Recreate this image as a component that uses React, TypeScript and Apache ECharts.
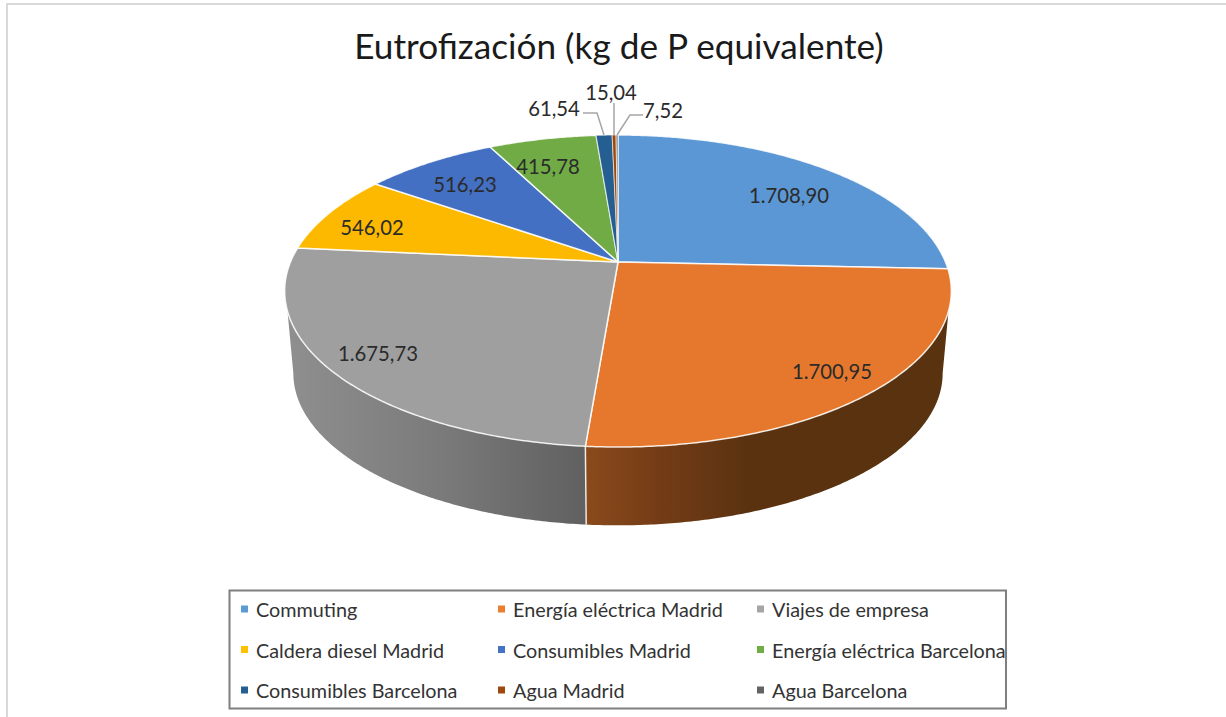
import React, { useEffect, useRef } from "react";
import * as echarts from "echarts";

const categories = [
  "Commuting",
  "Energía eléctrica Madrid",
  "Viajes de empresa",
  "Caldera diesel Madrid",
  "Consumibles Madrid",
  "Energía eléctrica Barcelona",
  "Consumibles Barcelona",
  "Agua Madrid",
  "Agua Barcelona",
];
const values = [1708.9, 1700.95, 1675.73, 546.02, 516.23, 415.78, 61.54, 15.04, 7.52];
const valueLabels = ["1.708,90", "1.700,95", "1.675,73", "546,02", "516,23", "415,78", "61,54", "15,04", "7,52"];
const topColors = ["#5b97d5", "#e6782d", "#9f9f9f", "#fdb900", "#4370c3", "#70ab46", "#255e91", "#9e480e", "#7f7f7f"];
const legendColors = ["#5b9bd5", "#ed7d31", "#a5a5a5", "#ffc000", "#4472c4", "#70ad47", "#255e91", "#9e480e", "#636363"];
const labelPositions = [
  [789, 195],
  [832, 371],
  [378, 353],
  [372, 227],
  [465, 184],
  [548, 166],
  [554, 108],
  [611, 92],
  [663, 110],
];
const legendColumns = [
  { left: 236, names: [categories[0], categories[3], categories[6]] },
  { left: 493, names: [categories[1], categories[4], categories[7]] },
  { left: 752, names: [categories[2], categories[5], categories[8]] },
];

const total = values.reduce((a, b) => a + b, 0);
const DEG = Math.PI / 180;
const PERSPECTIVE = 0.186;
const FONT = "Lato, Carlito, 'Open Sans', sans-serif";

// Perspective projection of a disc: theta is clockwise from 12 o'clock.
function project(theta: number, r: number, cx: number, cy: number, a: number, b: number) {
  const X = r * Math.sin(theta);
  const Y = -r * Math.cos(theta);
  const w = 1 - PERSPECTIVE * Y;
  return [cx + (a * X) / w, cy + (b * Y) / w];
}
const topPt = (t: number, r = 1) => project(t, r, 618, 262, 327.5, 150.6);
const botPt = (t: number) => project(t, 1, 618, 345, 319, 146.8);

function arc(fn: (t: number) => number[], from: number, to: number) {
  const n = Math.max(2, Math.ceil(Math.abs(to - from) / (0.5 * DEG)));
  const pts: number[][] = [];
  for (let i = 0; i <= n; i++) pts.push(fn(from + ((to - from) * i) / n));
  return pts;
}

const WALL_TOP_START = 108 * DEG;
const WALL_TOP_END = 252 * DEG;
const WALL_BOT_START = 100.7 * DEG;
const WALL_BOT_END = 259.3 * DEG;

const wallFill: Record<number, any> = {
  1: {
    type: "linear",
    global: true,
    x: 586,
    y: 0,
    x2: 950,
    y2: 0,
    colorStops: [
      { offset: 0, color: "#8a4a1b" },
      { offset: 0.2, color: "#743c16" },
      { offset: 0.45, color: "#5a3210" },
      { offset: 1, color: "#59320f" },
    ],
  },
  2: {
    type: "linear",
    global: true,
    x: 287,
    y: 0,
    x2: 586,
    y2: 0,
    colorStops: [
      { offset: 0, color: "#8f8f8f" },
      { offset: 0.5, color: "#7b7b7b" },
      { offset: 1, color: "#606060" },
    ],
  },
};

function sliceRender(index: number) {
  const before = values.slice(0, index).reduce((a, b) => a + b, 0);
  return (_params: any, api: any) => {
    const v = api.value(0) as number;
    const t0 = (before / total) * 2 * Math.PI;
    const t1 = ((before + v) / total) * 2 * Math.PI;
    const children: any[] = [];
    const topFrom = Math.max(t0, WALL_TOP_START);
    const topTo = Math.min(t1, WALL_TOP_END);
    if (topTo > topFrom) {
      const botFrom = t0 <= WALL_TOP_START ? WALL_BOT_START : Math.max(t0, WALL_BOT_START);
      const botTo = t1 >= WALL_TOP_END ? WALL_BOT_END : Math.min(t1, WALL_BOT_END);
      children.push({
        type: "polygon",
        shape: { points: [...arc(topPt, topFrom, topTo), ...arc(botPt, botTo, botFrom)] },
        style: { fill: wallFill[index] },
        z2: 1,
      });
      if (t0 > WALL_TOP_START) {
        const a = topPt(t0);
        const b = botPt(t0);
        children.push({
          type: "line",
          shape: { x1: a[0], y1: a[1], x2: b[0], y2: b[1] },
          style: { stroke: "rgba(255,255,255,0.85)", lineWidth: 1.5 },
          z2: 2,
        });
      }
    }
    const c = topPt(0, 0);
    children.push({
      type: "polygon",
      shape: { points: [c, ...arc(topPt, t0, t1)] },
      style: {
        fill: topColors[index],
        stroke: "rgba(255,255,255,0.85)",
        lineWidth: index >= 6 ? 0.7 : 1.5,
        lineJoin: "round",
      },
      z2: 3,
    });
    const p = labelPositions[index];
    children.push({
      type: "text",
      x: p[0],
      y: p[1],
      style: {
        text: valueLabels[index],
        fill: "#2b2b2b",
        font: `20.3px ${FONT}`,
        align: "center",
        verticalAlign: "middle",
      },
      z2: 5,
    });
    return { type: "group", children };
  };
}

const leaderLines = [
  [[583, 113], [597, 113], [604, 135]],
  [[614, 103], [614, 135]],
  [[643, 115], [630, 115], [617, 135]],
];

export default function App() {
  const ref = useRef<HTMLDivElement>(null);
  useEffect(() => {
    const chart = echarts.init(ref.current!, undefined, { renderer: "svg" });
    chart.setOption({
      animation: false,
      backgroundColor: "#ffffff",
      color: legendColors,
      title: {
        text: "Eutrofización (kg de P equivalente)",
        left: 619,
        top: 22,
        textAlign: "center",
        padding: [5, 10, 5, 0],
        textStyle: { fontFamily: FONT, fontSize: 35.2, fontWeight: "normal", color: "#1a1a1a" },
      },
      legend: legendColumns.map((col) => ({
        left: col.left,
        top: 594,
        orient: "vertical",
        data: col.names,
        icon: "rect",
        itemWidth: 7,
        itemHeight: 7,
        itemGap: 20.5,
        selectedMode: false,
        textStyle: { fontFamily: FONT, fontSize: 19.8, color: "#333333", padding: [0, 0, 0, 3] },
      })),
      graphic: [
        {
          type: "polyline",
          shape: { points: [[7, 717], [7, 4], [1226, 4]] },
          style: { fill: "none", stroke: "#d9d9d9", lineWidth: 2 },
          silent: true,
        },
        {
          type: "rect",
          shape: { x: 229.5, y: 590.5, width: 776.5, height: 118 },
          style: { fill: "none", stroke: "#7f7f7f", lineWidth: 2 },
          silent: true,
        },
        ...leaderLines.map((points) => ({
          type: "polyline",
          shape: { points },
          style: { fill: "none", stroke: "#a6a6a6", lineWidth: 1.5 },
          silent: true,
          z: 10,
        })),
      ],
      series: categories.map((name, i) => ({
        type: "custom",
        name,
        coordinateSystem: "none",
        data: [[values[i]]],
        renderItem: sliceRender(i),
        silent: true,
      })),
    });
    return () => chart.dispose();
  }, []);
  return <div ref={ref} style={{ position: "absolute", left: 0, top: 0, width: 1226, height: 717 }} />;
}
